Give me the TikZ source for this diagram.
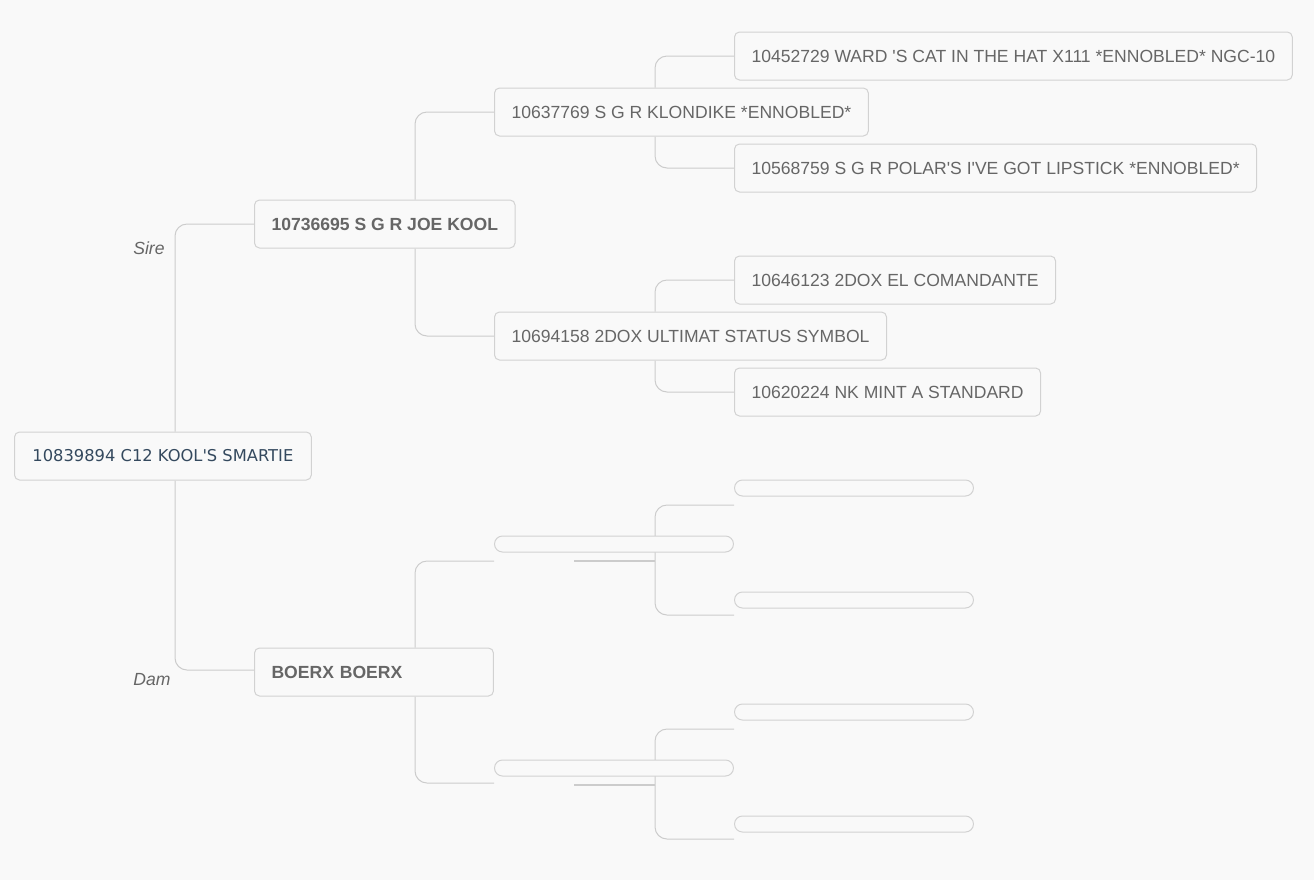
\documentclass[tikz,border=0pt]{standalone}
\usepackage{fontspec}
\setmainfont{Liberation Sans}
\newfontfamily\rootfont{DejaVu Sans}
\usetikzlibrary{backgrounds}

\definecolor{pagebg}{HTML}{F9F9F9}
\definecolor{linkgray}{HTML}{CCCCCC}
\definecolor{boxgray}{HTML}{D2D2D2}
\definecolor{inkgray}{HTML}{666666}
\definecolor{rootink}{HTML}{34495E}

\begin{document}
\begin{tikzpicture}[
	x=0.02cm, y=-0.02cm,
	font=\fontsize{10}{12}\selectfont,
	horse/.style={rectangle, rounded corners=0.1cm, draw=boxgray, fill=pagebg, line width=0.57pt, anchor=west, minimum height=0.96cm, inner xsep=0.34cm, text=inkgray},
	rootbox/.style={horse, inner xsep=0.36cm, text=rootink, font=\rootfont\fontsize{9.28}{12}\selectfont},
	parent/.style={horse, font=\fontsize{10}{12}\selectfont\bfseries},
	blank/.style={rectangle, rounded corners=0.16cm, draw=boxgray, fill=pagebg, line width=0.57pt, anchor=west, minimum width=4.78cm, minimum height=0.32cm, inner sep=0pt},
	link/.style={draw=linkgray, line width=0.57pt, rounded corners=0.24cm},
	stub/.style={draw=linkgray, line width=1.2pt},
	side/.style={text=inkgray, font=\fontsize{10}{12}\selectfont\itshape}
]

\useasboundingbox (0,0) rectangle (1314,880);

% --- generation 0 ---
\node[rootbox] (root) at (14,456) {10839894 C12 KOOL'S SMARTIE};

% --- generation 1 ---
\node[parent] (sire) at (254,224) {10736695 S G R JOE KOOL};
\node[parent, text width=4.1cm, align=left] (dam) at (254,672) {BOERX BOERX};
\node[side] (sirelbl) at (149,248) {Sire};
\node[side] (damlbl) at (152,680) {Dam};

% --- generation 2 ---
\node[horse] (ss) at (494,112) {10637769 S G R KLONDIKE *ENNOBLED*};
\node[horse] (sd) at (494,336) {10694158 2DOX ULTIMAT STATUS SYMBOL};
\node[blank] (ds) at (494,544) {};
\node[blank] (dd) at (494,768) {};

% --- generation 3 ---
\node[horse] (sss) at (734,56) {10452729 WARD \textquotesingle S CAT IN THE HAT X111 *ENNOBLED* NGC-10};
\node[horse] (ssd) at (734,168) {10568759 S G R POLAR\textquotesingle S I\textquotesingle VE GOT LIPSTICK *ENNOBLED*};
\node[horse] (sds) at (734,280) {10646123 2DOX EL COMANDANTE};
\node[horse] (sdd) at (734,392) {10620224 NK MINT A STANDARD};
\node[blank] (dss) at (734,488) {};
\node[blank] (dsd) at (734,600) {};
\node[blank] (dds) at (734,712) {};
\node[blank] (ddd) at (734,824) {};

% --- junctions ---
\coordinate (t0) at (175,456);
\coordinate (t1) at (415,224);
\coordinate (t2) at (655,112);
\coordinate (t3) at (655,336);
\coordinate (t4) at (415,672);
\coordinate (t5) at (655,561);
\coordinate (t6) at (655,785);
\coordinate (dsin) at (494,561);
\coordinate (ddin) at (494,783);
\coordinate (dssin) at (734,505);
\coordinate (dsdin) at (734,615);
\coordinate (ddsin) at (734,729);
\coordinate (dddin) at (734,839);
\coordinate (dsstub) at (574,561);
\coordinate (ddstub) at (574,785);

\begin{scope}[on background layer]
  \fill[pagebg] (0,0) rectangle (1314,880);
  % root
  \draw[link] (root.north -| t0) |- (sire.west);
  \draw[link] (root.south -| t0) |- ([yshift=0.04cm]dam.west);
  % sire side
  \draw[link] (sire.north -| t1) |- (ss.west);
  \draw[link] (sire.south -| t1) |- (sd.west);
  \draw[link] (ss.north -| t2) |- (sss.west);
  \draw[link] (ss.south -| t2) |- (ssd.west);
  \draw[link] (sd.north -| t3) |- (sds.west);
  \draw[link] (sd.south -| t3) |- (sdd.west);
  % dam side
  \draw[link] (dam.north -| t4) |- (dsin);
  \draw[link] (dam.south -| t4) |- (ddin);
  \draw[link] (t5) |- (dssin);
  \draw[link] (t5) |- (dsdin);
  \draw[link] (t6) |- (ddsin);
  \draw[link] (t6) |- (dddin);
  \draw[stub] (dsstub) -- (t5);
  \draw[stub] (ddstub) -- (t6);
\end{scope}

\end{tikzpicture}
\end{document}
